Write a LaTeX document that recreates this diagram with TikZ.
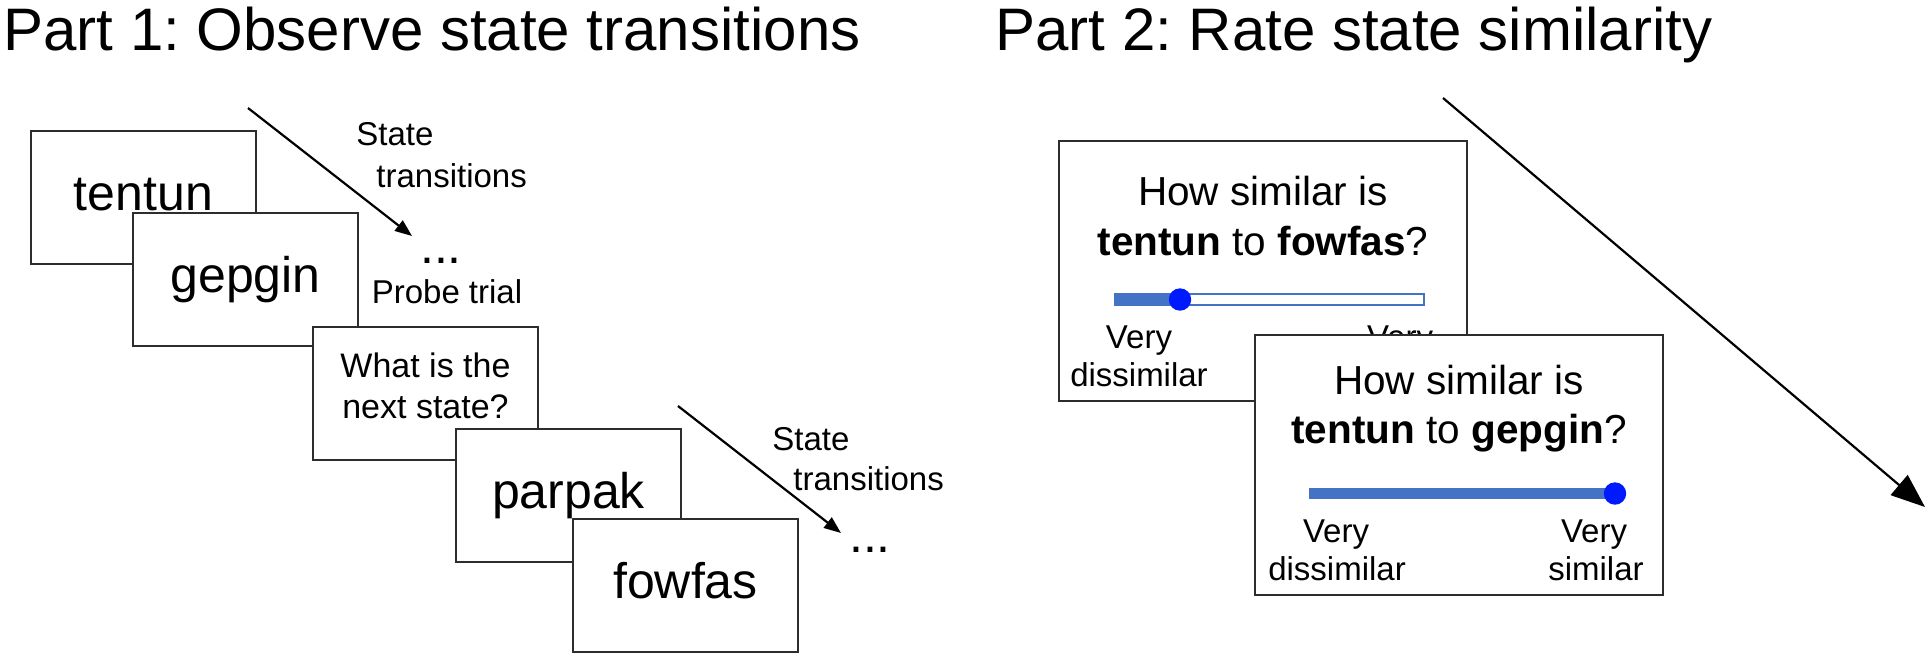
\documentclass[tikz,border=0pt]{standalone}
\usepackage{fontspec}
\setmainfont{Liberation Sans}
\usetikzlibrary{arrows.meta,calc}
\definecolor{barblue}{RGB}{68,114,196}
\definecolor{knobblue}{RGB}{0,26,255}
\definecolor{boxgray}{RGB}{45,45,45}
\frenchspacing
\begin{document}
\frenchspacing
\begin{tikzpicture}[x=0.5pt,y=-0.5pt,
  card/.style={draw=boxgray,line width=1pt,fill=white,minimum width=112.5pt,minimum height=66.5pt,anchor=north west,inner sep=0pt,outer sep=0pt,font=\fontsize{25}{30}\selectfont,text height=18pt,text depth=5.25pt},
  rcard/.style={draw=boxgray,line width=1pt,fill=white,minimum width=204pt,minimum height=130pt,anchor=north west,inner sep=0pt,outer sep=0pt},
  ttl/.style={font=\fontsize{30}{35}\selectfont,anchor=base west,inner sep=0pt},
  lab/.style={font=\fontsize{16.5}{20}\selectfont,inner sep=0pt},
  qtxt/.style={font=\fontsize{17}{20}\selectfont,inner sep=0pt,anchor=base},
  rq/.style={font=\fontsize{20.25}{24}\selectfont,inner sep=0pt,anchor=base},
  dots/.style={font=\fontsize{25}{28}\selectfont,inner sep=0pt,anchor=base},
  arr/.style={line width=1.1pt,-{Triangle[length=8.5pt,width=6.5pt]}},
  bigarr/.style={line width=1.1pt,-{Triangle[length=17pt,width=13pt]}},
  bar/.style={fill=barblue},
  knob/.style={fill=knobblue}
]
\useasboundingbox (0,0) rectangle (1932,659);

% titles
\node[ttl] (t1) at (3,50) {Part 1: Observe state transitions};
\node[ttl] (t2) at (995,50) {Part 2: Rate state similarity};

% Part 1 cards
\node[card] (b1) at (31,131) {tentun};
\node[card] (b2) at (133,213) {gepgin};
\node[card] (b3) at (313,327) {};
\node[qtxt] (q3a) at ($(b3.north)+(0,50)$) {What is the};
\node[qtxt] (q3b) at ($(b3.north)+(0,91)$) {next state?};
\node[card] (b4) at (456,429) {parpak};
\node[card] (b5) at (573,519) {fowfas};

% Part 1 arrows and labels
\coordinate (a1s) at (248,108);
\coordinate (a1e) at (412,236);
\draw[arr] (a1s) -- (a1e);
\node[lab,anchor=base west] (s1a) at (356,145) {State};
\node[lab,anchor=base west] (s1b) at (376,187) {transitions};
\node[dots] (d1) at (441,263) {...};
\node[lab,anchor=base] (pt) at (447,303) {Probe trial};

\coordinate (a2s) at (678,406);
\coordinate (a2e) at (841,533);
\draw[arr] (a2s) -- (a2e);
\node[lab,anchor=base west] (s2a) at (772,450) {State};
\node[lab,anchor=base west] (s2b) at (793,490) {transitions};
\node[dots] (d2) at (870,552) {...};

% Part 2 card A
\node[rcard] (rA) at (1059,141) {};
\node[rq] (rA1) at ($(rA.north)+(0,64)$) {How similar is};
\node[rq] (rA2) at ($(rA.north)+(0,114)$) {\textbf{tentun} to \textbf{fowfas}?};
\draw[barblue,line width=0.8pt,fill=white] ($(rA.north west)+(56,153)$) rectangle ($(rA.north west)+(365,164)$);
\fill[bar] ($(rA.north west)+(56,153)$) rectangle ($(rA.north west)+(121,164)$);
\fill[knob] ($(rA.north west)+(121,158.5)$) circle[radius=5.6pt];
\node[lab,anchor=base] (rA3) at ($(rA.north west)+(80,207)$) {Very};
\node[lab,anchor=base] (rA4) at ($(rA.north west)+(80,245)$) {dissimilar};
\node[lab,anchor=base] (rA5) at ($(rA.north west)+(341,207)$) {Very};

% Part 2 card B
\node[rcard] (rB) at (1255,335) {};
\node[rq] (rB1) at ($(rB.north)+(0,59)$) {How similar is};
\node[rq] (rB2) at ($(rB.north)+(0,108)$) {\textbf{tentun} to \textbf{gepgin}?};
\fill[bar] ($(rB.north west)+(54,153)$) rectangle ($(rB.north west)+(362,164)$);
\fill[knob] ($(rB.north west)+(360,158.5)$) circle[radius=5.6pt];
\node[lab,anchor=base] (rB3) at ($(rB.north west)+(81,207)$) {Very};
\node[lab,anchor=base] (rB4) at ($(rB.north west)+(82,245)$) {dissimilar};
\node[lab,anchor=base] (rB5) at ($(rB.north west)+(339,207)$) {Very};
\node[lab,anchor=base] (rB6) at ($(rB.north west)+(341,245)$) {similar};

% big arrow
\coordinate (bs) at (1443,98);
\coordinate (be) at (1925,507);
\draw[bigarr] (bs) -- (be);
\end{tikzpicture}
\end{document}
